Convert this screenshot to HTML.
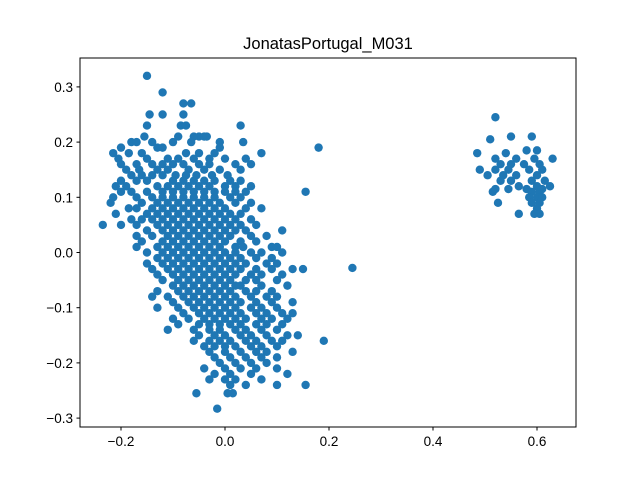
<!DOCTYPE html>
<html><head><meta charset="utf-8"><style>
body{margin:0;background:#fff;}
svg{display:block;font-family:"Liberation Sans","DejaVu Sans",sans-serif;}
</style></head><body>
<svg id="chart" width="640" height="480">
<rect x="0" y="0" width="640" height="480" fill="#fff"/>
<text x="328" y="49" text-anchor="middle" font-size="16.5" fill="#000">JonatasPortugal_M031</text>
<g id="marks"></g>
<g id="axes"></g>
<rect x="80" y="58" width="496" height="369" fill="none" stroke="#000" stroke-width="1"/>
</svg>
<script>
const xTicks=[-0.2,0.0,0.2,0.4,0.6];
const yTicks=[-0.3,-0.2,-0.1,0.0,0.1,0.2,0.3];
const xTickLabels=["−0.2","0.0","0.2","0.4","0.6"];
const yTickLabels=["−0.3","−0.2","−0.1","0.0","0.1","0.2","0.3"];
const rows=[
[0.32,[-0.15]],[0.29,[-0.12]],[0.27,[-0.08,-0.065]],[0.25,[-0.145,-0.08,-0.12]],
[0.23,[-0.15,-0.085,-0.075,0.03]],[0.21,[-0.155,-0.09,-0.05,-0.04,-0.035,-0.06]],
[0.20,[-0.18,-0.17,-0.14,-0.1,-0.065,-0.01,0.035]],[0.19,[-0.2,-0.13,-0.12,-0.01,0.18]],
[0.18,[-0.215,-0.185,-0.16,-0.075,-0.05,-0.02,0.07]],[0.17,[-0.205,-0.15,-0.11,-0.09,-0.06,-0.03,0.0,0.04]],
[0.16,[-0.2,-0.17,-0.14,-0.12,-0.1,-0.08,-0.05,-0.03,0.02,0.05]],[0.15,[-0.19,-0.165,-0.13,-0.11,-0.07,-0.04,-0.01,0.03]],
[0.14,[-0.18,-0.16,-0.14,-0.12,-0.095,-0.075,-0.055,-0.025,0.005]],[0.13,[-0.2,-0.17,-0.15,-0.1,-0.08,-0.06,-0.04,-0.02,0.01,0.03]],
[0.12,[-0.21,-0.19,-0.13,-0.11,-0.09,-0.07,-0.05,-0.03,0.0,0.02,0.05]],
[0.11,[-0.2,-0.18,-0.15,-0.12,-0.1,-0.08,-0.06,-0.04,-0.02,0.0,0.02,0.04,0.155]],
[0.10,[-0.215,-0.17,-0.14,-0.12,-0.1,-0.08,-0.06,-0.04,-0.02,0.01,0.03]],
[0.09,[-0.22,-0.16,-0.13,-0.11,-0.09,-0.07,-0.05,-0.03,-0.01,0.02,0.05]],
[0.08,[-0.185,-0.17,-0.14,-0.12,-0.1,-0.08,-0.06,-0.04,-0.02,0.0,0.04,0.07]],
[0.07,[-0.21,-0.15,-0.13,-0.11,-0.09,-0.07,-0.05,-0.03,-0.01,0.01,0.03]],
[0.06,[-0.18,-0.16,-0.14,-0.12,-0.1,-0.08,-0.06,-0.04,-0.02,0.0,0.02,0.05]],
[0.05,[-0.235,-0.2,-0.17,-0.13,-0.11,-0.09,-0.07,-0.05,-0.03,-0.01,0.01,0.03,0.06]],
[0.04,[-0.15,-0.12,-0.1,-0.08,-0.06,-0.04,-0.02,0.0,0.02,0.04,0.11]],
[0.03,[-0.17,-0.14,-0.11,-0.09,-0.07,-0.05,-0.03,-0.01,0.01,0.05,0.08]],
[0.02,[-0.16,-0.12,-0.1,-0.08,-0.06,-0.04,-0.02,0.0,0.03,0.06]],
[0.01,[-0.17,-0.13,-0.11,-0.09,-0.07,-0.05,-0.03,-0.01,0.02,0.035,0.09,0.1]],
[0.0,[-0.15,-0.12,-0.1,-0.08,-0.06,-0.04,-0.02,0.0,0.02,0.05,0.07,0.11]],
[-0.01,[-0.13,-0.11,-0.09,-0.07,-0.05,-0.03,-0.01,0.01,0.03,0.06,0.09]],
[-0.02,[-0.15,-0.12,-0.1,-0.08,-0.06,-0.04,-0.02,0.0,0.02,0.04,0.08,0.1]],
[-0.028,[0.245]],
[-0.03,[-0.14,-0.11,-0.09,-0.07,-0.05,-0.03,-0.01,0.01,0.03,0.06,0.09,0.15,0.13]],
[-0.04,[-0.13,-0.1,-0.08,-0.06,-0.04,-0.02,0.0,0.02,0.05,0.07,0.11]],
[-0.05,[-0.12,-0.09,-0.07,-0.05,-0.03,-0.01,0.01,0.04,0.06,0.1]],
[-0.06,[-0.1,-0.08,-0.06,-0.04,-0.02,0.0,0.02,0.03,0.07,0.12]],
[-0.07,[-0.13,-0.09,-0.07,-0.05,-0.03,-0.01,0.01,0.04,0.06,0.09]],
[-0.08,[-0.14,-0.11,-0.08,-0.06,-0.04,-0.02,0.0,0.02,0.05,0.08,0.1]],
[-0.09,[-0.1,-0.07,-0.05,-0.03,-0.01,0.01,0.03,0.06,0.09,0.13]],
[-0.10,[-0.13,-0.09,-0.06,-0.04,-0.02,0.0,0.02,0.05,0.07,0.1]],
[-0.11,[-0.08,-0.05,-0.03,-0.01,0.01,0.03,0.06,0.08,0.11,0.13]],
[-0.12,[-0.1,-0.07,-0.04,-0.02,0.0,0.02,0.04,0.07,0.09,0.12]],
[-0.13,[-0.09,-0.05,-0.03,-0.01,0.01,0.03,0.06,0.08,0.11]],
[-0.14,[-0.11,-0.06,-0.03,-0.01,0.02,0.04,0.07,0.1]],
[-0.15,[-0.05,-0.02,0.0,0.03,0.05,0.08,0.12,0.14]],
[-0.16,[-0.06,-0.03,-0.01,0.01,0.04,0.06,0.09,0.11,0.19]],
[-0.17,[-0.04,-0.02,0.0,0.02,0.05,0.07,0.1]],
[-0.18,[-0.03,0.0,0.03,0.06,0.08,0.13]],
[-0.19,[-0.02,0.01,0.04,0.07,0.1]],
[-0.20,[-0.01,0.02,0.05,0.08]],
[-0.21,[-0.04,0.0,0.03,0.06,0.1]],
[-0.22,[-0.02,0.01,0.05,0.12]],
[-0.23,[-0.03,0.0,0.02,0.07]],
[-0.24,[0.01,0.04,0.1,0.155]],
[-0.255,[-0.055,0.015,0.005]],
[-0.283,[-0.015]],
[0.245,[0.52]],[0.21,[0.55,0.59]],[0.205,[0.51]],[0.185,[0.6,0.58]],[0.18,[0.485,0.54]],
[0.17,[0.52,0.56,0.595,0.63]],[0.16,[0.53,0.55,0.575,0.605]],[0.15,[0.49,0.52,0.545,0.585,0.61]],
[0.14,[0.505,0.535,0.56,0.6]],[0.13,[0.53,0.55,0.59,0.615]],[0.12,[0.565,0.6,0.625]],
[0.115,[0.52,0.545,0.58,0.61]],[0.11,[0.515,0.59,0.605]],[0.1,[0.6,0.585,0.61]],
[0.09,[0.525,0.59,0.605]],[0.08,[0.6]],[0.07,[0.565,0.595,0.605]]
];
const xVals=[],yVals=[];
rows.forEach(r=>r[1].forEach(x=>{xVals.push(x);yVals.push(r[0]);}));
const NS="http://www.w3.org/2000/svg";
function sx(v){return 225+(v-0)*520;}
function sy(v){return 252.5-v*552;}
const marks=document.getElementById('marks');
for(let i=0;i<xVals.length;i++){
  const c=document.createElementNS(NS,'circle');
  c.setAttribute('cx',sx(xVals[i]));c.setAttribute('cy',sy(yVals[i]));
  c.setAttribute('r',4.2);c.setAttribute('fill','#1f77b4');
  
  
  marks.appendChild(c);
}
const axes=document.getElementById('axes');
xTicks.forEach((t,i)=>{
  const x=sx(t);
  const l=document.createElementNS(NS,'line');
  l.setAttribute('x1',x);l.setAttribute('x2',x);l.setAttribute('y1',427);l.setAttribute('y2',430.5);
  l.setAttribute('stroke','#000');
  
  
  axes.appendChild(l);
  const tx=document.createElementNS(NS,'text');
  tx.setAttribute('x',x);tx.setAttribute('y',446);tx.setAttribute('text-anchor','middle');tx.setAttribute('font-size','13.5');
  tx.textContent=xTickLabels[i];
  
  
  axes.appendChild(tx);
});
yTicks.forEach((t,i)=>{
  const y=sy(t);
  const l=document.createElementNS(NS,'line');
  l.setAttribute('x1',76.5);l.setAttribute('x2',80);l.setAttribute('y1',y);l.setAttribute('y2',y);
  l.setAttribute('stroke','#000');
  
  
  axes.appendChild(l);
  const tx=document.createElementNS(NS,'text');
  tx.setAttribute('x',73);tx.setAttribute('y',y+5);tx.setAttribute('text-anchor','end');tx.setAttribute('font-size','13.5');
  tx.textContent=yTickLabels[i];
  
  
  axes.appendChild(tx);
});
</script>
</body></html>
